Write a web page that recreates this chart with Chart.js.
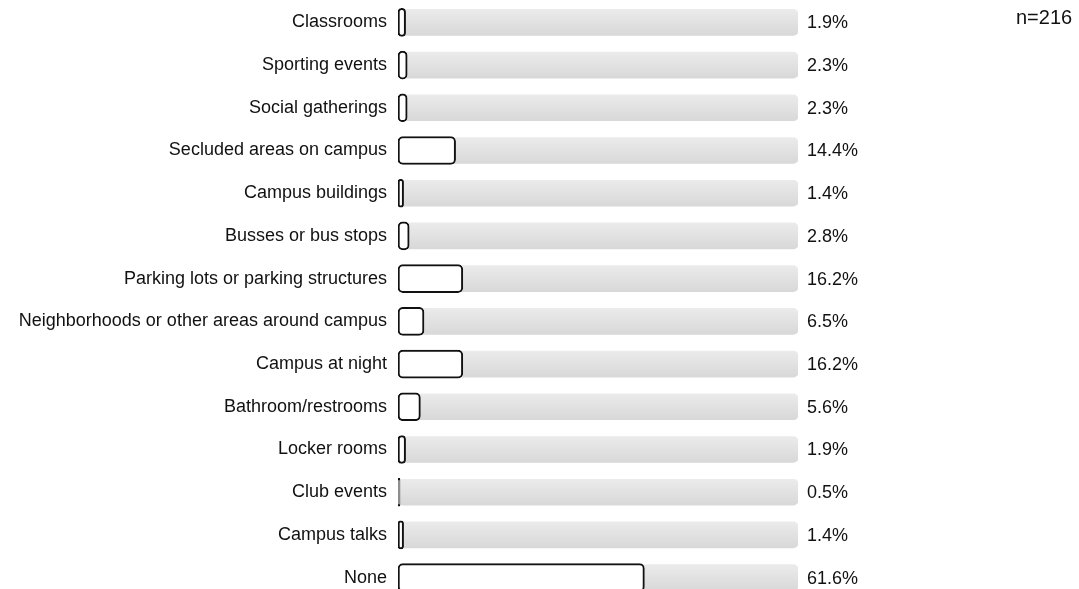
<!DOCTYPE html>
<html>
<head>
<meta charset="utf-8">
<script src="https://cdn.jsdelivr.net/npm/chart.js@4"></script>
<style>
  html, body { margin: 0; padding: 0; background: #fff; overflow: hidden; }
  #wrap { width: 1079px; height: 599px; }
</style>
</head>
<body>
<div id="wrap"><canvas id="chart"></canvas></div>
<script>
// === Survey data ===
const categories = [
  "Classrooms", "Sporting events", "Social gatherings", "Secluded areas on campus",
  "Campus buildings", "Busses or bus stops", "Parking lots or parking structures",
  "Neighborhoods or other areas around campus", "Campus at night", "Bathroom/restrooms",
  "Locker rooms", "Club events", "Campus talks", "None"
];
const percents = [1.9, 2.3, 2.3, 14.4, 1.4, 2.8, 16.2, 6.5, 16.2, 5.6, 1.9, 0.5, 1.4, 61.6];
const fullTrack = categories.map(() => 100);
const sampleLabel = "n=216";

const FONT = "'Liberation Sans', Arial, sans-serif";

// grey track with a soft top-to-bottom shade
function trackColor(c) {
  const yScale = c.chart.scales.y;
  if (!yScale || c.dataIndex === undefined) return "#e0e0e0";
  const y = yScale.getPixelForValue(c.dataIndex);
  if (!isFinite(y)) return "#e0e0e0";
  const g = c.chart.ctx.createLinearGradient(0, y - 13, 0, y + 13);
  g.addColorStop(0, "#ebebeb");
  g.addColorStop(1, "#d8d8d8");
  return g;
}

// value labels to the right of the track + n label
const labelPlugin = {
  id: "labels",
  afterDatasetsDraw(chart) {
    const { ctx, scales } = chart;
    const xEnd = scales.x.getPixelForValue(100);
    ctx.save();
    ctx.fillStyle = "#111";
    ctx.font = "18px " + FONT;
    ctx.textBaseline = "middle";
    ctx.textAlign = "left";
    percents.forEach((v, i) => {
      const y = scales.y.getPixelForValue(i);
      ctx.fillText(v.toFixed(1) + "%", xEnd + 9, y + 1);
    });
    ctx.font = "20px " + FONT;
    ctx.fillText(sampleLabel, 1016, scales.y.getPixelForValue(0) - 4);
    ctx.restore();
  }
};

const ctx = document.getElementById("chart").getContext("2d");
new Chart(ctx, {
  type: "bar",
  data: {
    labels: categories,
    datasets: [
      {
        data: percents,
        backgroundColor: "#ffffff",
        borderColor: "#111",
        borderWidth: 2,
        borderRadius: 5,
        borderSkipped: false,
        barThickness: 28,
        grouped: false,
        order: 1
      },
      {
        data: fullTrack,
        backgroundColor: trackColor,
        borderWidth: 0,
        borderRadius: 5,
        borderSkipped: false,
        barThickness: 26,
        grouped: false,
        order: 2
      }
    ]
  },
  options: {
    indexAxis: "y",
    responsive: true,
    maintainAspectRatio: false,
    animation: false,
    layout: { padding: { top: 1, right: 281, bottom: 0, left: 0 } },
    scales: {
      x: { display: false, min: 0, max: 100 },
      y: {
        grid: { display: false },
        border: { display: false },
        afterFit(scale) {
          scale.width = 398;
          scale.paddingTop = 0;
          scale.paddingBottom = 0;
        },
        ticks: {
          padding: 3,
          color: "#111",
          font: { family: FONT, size: 18 }
        }
      }
    },
    plugins: {
      legend: { display: false },
      tooltip: { enabled: false }
    }
  },
  plugins: [labelPlugin]
});
</script>
</body>
</html>
